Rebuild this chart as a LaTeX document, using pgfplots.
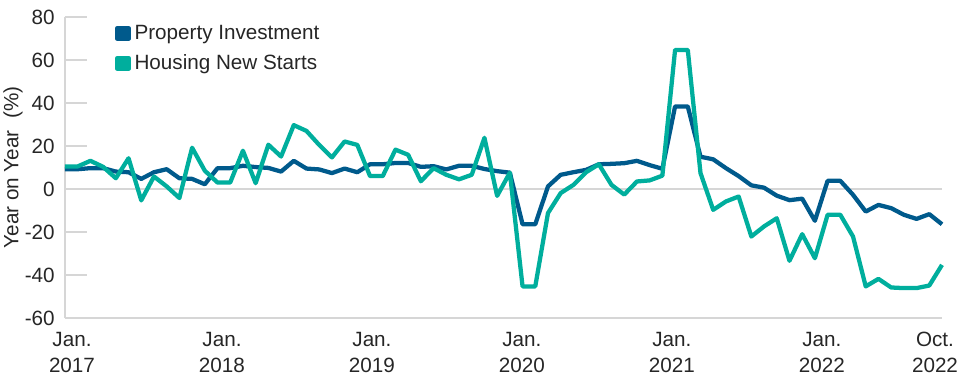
\documentclass[border=0pt]{standalone}
\usepackage{fontspec}
\setmainfont{Liberation Sans}
\usepackage{pgfplots}
\usepackage{pgfplotstable}
\pgfplotsset{compat=1.18}
\definecolor{pi}{HTML}{005A8C}
\definecolor{hs}{HTML}{00AE9D}
\definecolor{gl}{HTML}{D6D6D6}
\definecolor{txt}{HTML}{262626}

\pgfplotstableread{
m pi hs
0 9.2 10.5
1 9.2 10.5
2 9.7 13.1
3 9.7 10.3
4 8.1 5.0
5 7.8 14.3
6 4.7 -5.3
7 7.8 5.8
8 9.2 1.2
9 5.0 -4.2
10 4.7 19.2
11 2.2 8.5
12 9.7 3.0
13 9.7 3.0
14 10.8 17.8
15 10.2 2.7
16 9.8 20.6
17 8.1 15.1
18 13.1 29.7
19 9.5 27.0
20 9.1 20.5
21 7.4 14.7
22 9.5 22.1
23 7.8 20.5
24 11.5 6.0
25 11.5 6.0
26 12.1 18.3
27 12.1 15.9
28 10.3 3.6
29 10.6 9.7
30 9.1 6.6
31 10.8 4.5
32 10.8 6.6
33 9.3 23.8
34 8.3 -3.2
35 7.6 7.6
36 -16.4 -45.3
37 -16.4 -45.3
38 1.2 -11.2
39 6.6 -1.9
40 7.8 1.9
41 8.9 7.8
42 11.5 11.5
43 11.7 1.9
44 12.0 -2.6
45 13.1 3.5
46 11.1 4.0
47 9.4 6.2
48 38.4 64.7
49 38.4 64.7
50 15.0 7.4
51 13.8 -9.7
52 9.7 -5.8
53 6.0 -3.5
54 1.7 -22.1
55 0.6 -17.4
56 -3.1 -13.6
57 -5.2 -33.4
58 -4.5 -21.0
59 -14.8 -32.2
60 3.8 -12.0
61 3.8 -12.0
62 -2.7 -22.1
63 -10.5 -45.3
64 -7.4 -41.8
65 -8.9 -45.8
66 -12.0 -46.1
67 -13.9 -46.1
68 -11.7 -44.9
69 -16.4 -35.3
}\datatable

\newcommand{\lbl}{\fontsize{15.5pt}{19.5pt}\selectfont}

\begin{document}
\begin{tikzpicture}
\useasboundingbox (-48.75pt,-48pt) rectangle (671.25pt,238.5pt);
\begin{axis}[
  scale only axis, width=657.75pt, height=225.75pt,
  xmin=0, xmax=69, ymin=-60, ymax=80,
  axis x line*=bottom, axis y line*=left,
  axis line style={gl, line width=0.8pt},
  ytick={-60,-40,-20,0,20,40,60,80},
  yticklabels={-60,-40,-20,0,20,40,60,80},
  ytick style={gl, line width=0.8pt},
  major tick length=16.5pt, tick align=inside,
  extra y ticks={0}, extra y tick labels={},
  extra y tick style={grid=major, major grid style={gl, line width=0.8pt}},
  xtick={0.55,12.35,24.15,35.95,47.75,59.55,68.45},
  xticklabels={{Jan.\\2017},{Jan.\\2018},{Jan.\\2019},{Jan.\\2020},{Jan.\\2021},{Jan.\\2022},{Oct.\\2022}},
  xtick style={draw=none},
  xticklabel style={font=\lbl, text=txt, align=center, anchor=north, inner sep=0pt, yshift=-10.5pt},
  yticklabel style={font=\lbl, text=txt, anchor=east, inner sep=0pt, xshift=-7.5pt},
  ylabel={Year on Year~ (\%)},
  ylabel style={font=\lbl, text=txt, at={(axis description cs:-0.0593,0.5)}, anchor=center},
  legend style={at={(rel axis cs:0.057,0.982)}, anchor=north west, draw=none, fill=none, font=\lbl, text=txt, row sep=6pt, inner sep=0pt,
    /tikz/every odd column/.append style={column sep=1pt}},
  legend cell align=left,
  legend image code/.code={\fill[#1] (0pt,-4.1pt) rectangle (8.25pt,4.1pt);},
  clip=false,
]
\addplot[pi, line width=3.2pt, line join=round] table[x=m, y=pi] {\datatable};
\addlegendentry{Property Investment}
\addplot[hs, line width=3.2pt, line join=round] table[x=m, y=hs] {\datatable};
\addlegendentry{Housing New Starts}
\end{axis}
\end{tikzpicture}
\end{document}
